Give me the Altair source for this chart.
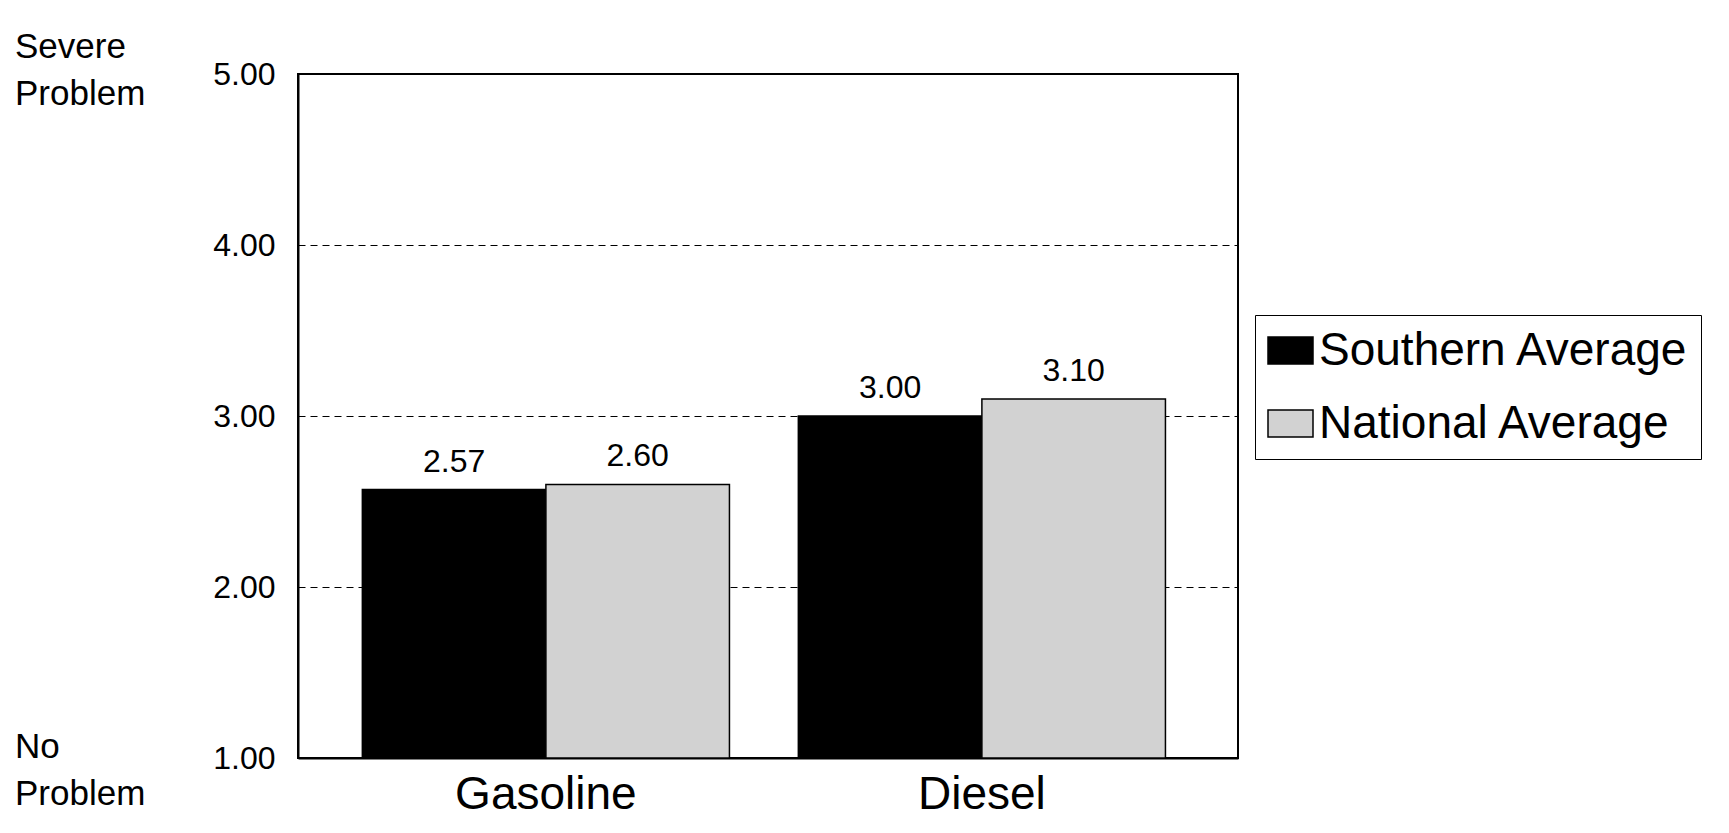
import altair as alt
import pandas as pd

fuels = ["Gasoline", "Gasoline", "Diesel", "Diesel"]
series = ["Southern Average", "National Average", "Southern Average", "National Average"]
values = [2.57, 2.60, 3.00, 3.10]
tick_vals = [1, 2, 3, 4, 5]
side_texts = [["Severe", "Problem"], ["No", "Problem"]]
side_vals = [5.0, 1.0]

df = pd.DataFrame({"fuel": fuels, "series": series, "value": values})
df["base"] = 1.0
df["label"] = [f"{v:.2f}" for v in values]

FONT = "Liberation Sans"
order = ["Gasoline", "Diesel"]
sorder = ["Southern Average", "National Average"]

x = alt.X("fuel:N", sort=order, title=None,
          scale=alt.Scale(paddingInner=0.158, paddingOuter=0.157, align=0.47),
          axis=alt.Axis(labelAngle=0, labelFontSize=46, labelFont=FONT, labelColor="black",
                        labelLimit=0, ticks=False, domain=True, domainColor="black",
                        domainWidth=2, labelPadding=14))
y = alt.Y("value:Q", title=None,
          scale=alt.Scale(domain=[1, 5], nice=False, zero=False),
          axis=alt.Axis(values=tick_vals, format=".2f", labelFontSize=32, labelFont=FONT,
                        labelColor="black", ticks=False, domainColor="black", domainWidth=2,
                        labelPadding=23, grid=True, gridDash=[7, 5], gridColor="black",
                        gridWidth=1))

bars = alt.Chart(df).mark_bar(stroke="black", strokeWidth=1.5).encode(
    x=x,
    xOffset=alt.XOffset("series:N", sort=sorder),
    y=y,
    y2="base:Q",
    color=alt.Color("series:N", sort=sorder,
                    scale=alt.Scale(domain=sorder, range=["#000000", "#d2d2d2"]),
                    legend=alt.Legend(title=None, orient="none", legendX=957, legendY=241,
                                      labelFontSize=46, labelFont=FONT, labelColor="black",
                                      labelLimit=0,
                                      symbolType="M-1,-0.6H1V0.6H-1Z", symbolSize=2025,
                                      symbolStrokeColor="black", symbolStrokeWidth=1.5,
                                      strokeColor="black", padding=12,
                                      rowPadding=26, labelOffset=5, symbolOffset=0)),
)

labels = alt.Chart(df).mark_text(dy=-18, fontSize=32, font=FONT, color="black",
                                 baseline="alphabetic").encode(
    x=alt.X("fuel:N", sort=order),
    xOffset=alt.XOffset("series:N", sort=sorder),
    y="value:Q",
    text="label:N",
)

side_df = pd.DataFrame({"txt": side_texts, "v": side_vals})
side_top = alt.Chart(side_df.iloc[[0]]).mark_text(
    align="left", fontSize=35, font=FONT, color="black", lineHeight=47,
    baseline="top", dy=-44).encode(x=alt.value(-283), y="v:Q", text="txt")
side_bot = alt.Chart(side_df.iloc[[1]]).mark_text(
    align="left", fontSize=35, font=FONT, color="black", lineHeight=47,
    baseline="top", dy=-28).encode(x=alt.value(-283), y="v:Q", text="txt")

chart = alt.layer(bars, labels, side_top, side_bot).properties(
    width=940, height=684,
    autosize=alt.AutoSizeParams(type="none"),
    padding={"left": 290, "top": 66, "right": 470, "bottom": 67},
).configure_view(stroke="black", strokeWidth=2).configure_axis(gridOpacity=1)

chart.save("out.html", embed_options={"renderer": "svg", "actions": False})
